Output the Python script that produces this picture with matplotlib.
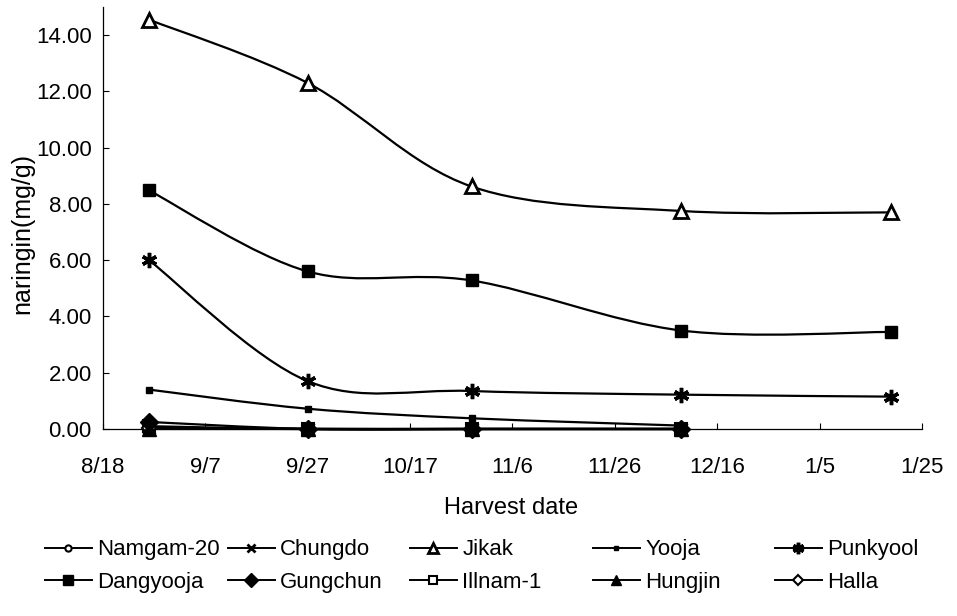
import numpy as np
import pandas as pd
import matplotlib
matplotlib.use('Agg')
import matplotlib.pyplot as plt
import matplotlib.dates as mdates
from matplotlib.path import Path
from matplotlib.patches import PathPatch
from matplotlib.lines import Line2D

plt.rcParams['font.family'] = ['Liberation Sans', 'DejaVu Sans']

# harvest dates and naringin content (mg/g)
harvest = ['2003-08-27', '2003-09-27', '2003-10-29', '2003-12-09', '2004-01-19']
tick_dates = ['2003-08-18', '2003-09-07', '2003-09-27', '2003-10-17', '2003-11-06',
              '2003-11-26', '2003-12-16', '2004-01-05', '2004-01-25']
tick_labels = ['8/18', '9/7', '9/27', '10/17', '11/6', '11/26', '12/16', '1/5', '1/25']

namgam20 = [0.05, 0.0, 0.0, 0.0]
chungdo = [0.03, 0.0, 0.0, 0.0]
jikak = [14.55, 12.30, 8.62, 7.75, 7.70]
yooja = [1.40, 0.72, 0.38, 0.12]
punkyool = [6.00, 1.70, 1.35, 1.22, 1.15]
dangyooja = [8.48, 5.60, 5.28, 3.50, 3.45]
gungchun = [0.25, 0.0, 0.0, 0.0]
illnam1 = [0.10, 0.0, 0.0, 0.0]
hungjin = [0.0, 0.0, 0.0, 0.0]
halla = [0.02, 0.0, 0.0, 0.0]

series = [
    ('Namgam-20', namgam20, dict(marker='o', ms=6, mfc='white', mec='black', mew=1.5)),
    ('Chungdo', chungdo, dict(marker='x', ms=8, mec='black', mew=2)),
    ('Jikak', jikak, dict(marker='^', ms=10, mfc='white', mec='black', mew=2)),
    ('Yooja', yooja, dict(marker='s', ms=4, mfc='black', mec='black')),
    ('Punkyool', punkyool, dict(marker=(6, 2, 0), ms=11, mec='black', mew=2.5)),
    ('Dangyooja', dangyooja, dict(marker='s', ms=9, mfc='black', mec='black')),
    ('Gungchun', gungchun, dict(marker='D', ms=9, mfc='black', mec='black')),
    ('Illnam-1', illnam1, dict(marker='s', ms=8, mfc='white', mec='black', mew=1.5)),
    ('Hungjin', hungjin, dict(marker='^', ms=10, mfc='black', mec='black')),
    ('Halla', halla, dict(marker='D', ms=7, mfc='white', mec='black', mew=1.5)),
]


def smooth_path(xs, ys):
    # Catmull-Rom style bezier through the points (excel "smoothed line")
    n = len(xs)
    verts = [(xs[0], ys[0])]
    codes = [Path.MOVETO]
    for i in range(n - 1):
        a = max(i - 1, 0)
        b = min(i + 2, n - 1)
        c1 = (xs[i] + (xs[i + 1] - xs[a]) / 6, ys[i] + (ys[i + 1] - ys[a]) / 6)
        c2 = (xs[i + 1] - (xs[b] - xs[i]) / 6, ys[i + 1] - (ys[b] - ys[i]) / 6)
        verts += [c1, c2, (xs[i + 1], ys[i + 1])]
        codes += [Path.CURVE4] * 3
    return Path(verts, codes)


fig = plt.figure(figsize=(9.57, 6.16), dpi=100)
ax = fig.add_axes([0.1076, 0.3036, 0.8558, 0.685])

xnum = mdates.date2num(pd.to_datetime(harvest))
handles = []
for name, vals, style in series:
    xs = xnum[:len(vals)]
    ax.add_patch(PathPatch(smooth_path(xs, vals), fill=False, ec='black', lw=1.6,
                           clip_on=False, zorder=2))
    # filled markers sit on top of the open ones
    z = 3 if style.get('mfc') == 'white' else 4
    ax.plot(xs, vals, ls='none', clip_on=False, zorder=z, **style)
    handles.append(Line2D([], [], color='black', lw=1.4, label=name, **style))

ticks = mdates.date2num(pd.to_datetime(tick_dates))
ax.set_xlim(ticks[0], ticks[-1])
ax.set_ylim(0, 15)
ax.set_xticks(ticks)
ax.set_xticklabels(tick_labels, fontsize=16)
ax.set_yticks(np.arange(0, 15, 2))
ax.set_yticklabels(['%.2f' % v for v in np.arange(0, 15, 2)], fontsize=16)
ax.tick_params(axis='x', direction='in', length=4, width=0.8, pad=20)
ax.tick_params(axis='y', direction='in', length=4, width=0.8, pad=8)
for s in ['top', 'right']:
    ax.spines[s].set_visible(False)
for s in ['left', 'bottom']:
    ax.spines[s].set_linewidth(0.9)

fig.text(22 / 957, 1 - 234 / 616, 'naringin(mg/g)', rotation=90, ha='center', va='center',
         fontsize=18)
fig.text(511 / 957, 1 - 508 / 616, 'Harvest date', ha='center', va='center', fontsize=17)

# legend laid out as 5 columns of 2 rows
col_x = [45, 228, 410, 593, 775]
for c in range(5):
    leg = fig.legend(handles=[handles[c], handles[c + 5]], loc='center left',
                     bbox_to_anchor=(col_x[c] / 957, 1 - 566 / 616), frameon=False,
                     borderpad=0, borderaxespad=0, handlelength=2.1, handletextpad=0.25,
                     labelspacing=0.5, markerscale=0.75, prop={'size': 16})

fig.savefig('out.png', dpi=100)
